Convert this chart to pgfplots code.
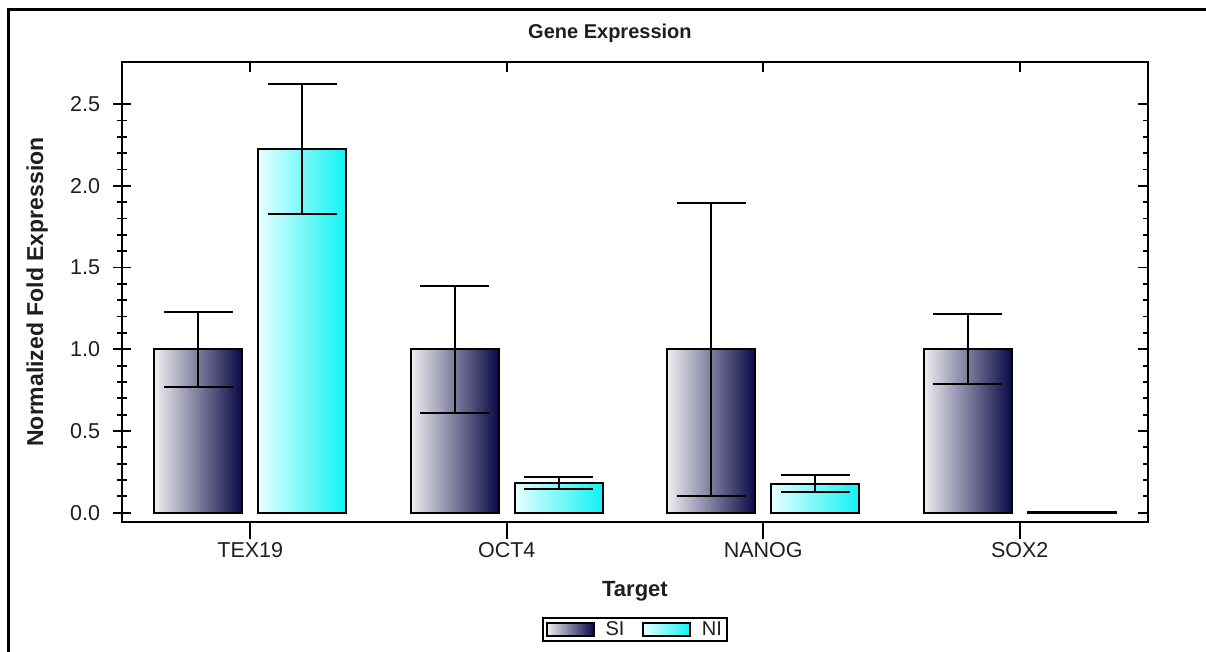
\documentclass[border=0pt]{standalone}
\usepackage{fontspec}
\setmainfont{Liberation Sans}
\usepackage{pgfplots}
\pgfplotsset{compat=1.18}
\definecolor{siL}{HTML}{EEEEF3}
\definecolor{siR}{HTML}{0A0A46}
\definecolor{niL}{HTML}{E6FFFF}
\definecolor{niR}{HTML}{10F2F2}
\definecolor{txt}{HTML}{1E1E1E}
\pgfplotsset{
  errstyle/.style={error bars/y dir=both, error bars/y explicit,
    error bars/error bar style={line width=2pt, black},
    error bars/error mark options={rotate=90, mark size=34.5pt, line width=2pt, black}},
  sibar/.style={bar shift=-0.203, draw=black, line width=2pt, left color=siL, right color=siR, errstyle},
  nibar/.style={bar shift=0.203, draw=black, line width=2pt, left color=niL, right color=niR, errstyle},
}
\begin{document}
\begin{tikzpicture}[x=1pt,y=1pt]
\useasboundingbox (0,0) rectangle (1206,651);
\draw[line width=2.5pt,black] (8.5,-2) -- (8.5,641.5) -- (1210,641.5);
\begin{axis}[
  at={(122pt,129pt)}, anchor=south west,
  scale only axis, width=1026pt, height=460pt,
  xmin=-0.5, xmax=3.5, ymin=-0.057, ymax=2.758,
  xtick={0,1,2,3}, xticklabels={TEX19,OCT4,NANOG,SOX2},
  ytick={0,0.5,1,1.5,2,2.5}, minor y tick num=4,
  xtick pos=left, ytick pos=left,
  tick align=center,
  major tick length=17pt, minor tick length=10pt,
  every tick/.style={black, line width=1.8pt},
  axis line style={line width=2pt},
  tick label style={font=\fontsize{21.5}{24}\selectfont, text=txt},
  yticklabel style={xshift=-10pt},
  /pgf/number format/assume math mode=true,
  yticklabel={\pgfmathprintnumber[fixed,fixed zerofill,precision=1]{\tick}},
  title={\textbf{Gene Expression}},
  title style={at={(0.4756,1.037)}, anchor=base, font=\fontsize{20}{24}\selectfont, text=txt},
  xlabel={\textbf{Target}},
  xlabel style={at={(0.5,-0.161)}, anchor=base, font=\fontsize{22}{26}\selectfont, text=txt},
  ylabel={\textbf{Normalized Fold Expression}},
  ylabel style={at={(-0.077,0.5)}, anchor=base, font=\fontsize{23}{26}\selectfont, text=txt},
  ybar, bar width=0.342,
  legend columns=2,
  legend style={at={(0.5,-0.2337)}, anchor=center, draw=black, line width=1.5pt,
    font=\fontsize{20}{22}\selectfont, text=txt, inner xsep=3pt, inner ysep=2pt,
    /tikz/every odd column/.append style={column sep=9pt},
    /tikz/every even column/.append style={column sep=16pt}},
  legend image code/.code={\draw[#1, line width=1.5pt] (0pt,-6.5pt) rectangle (47pt,6.5pt);},
]
\addplot[sibar] coordinates {(0,1.0) += (0,0.228) -= (0,0.231)};
\addlegendentry{SI}
\addplot[nibar] coordinates {(0,2.224) += (0,0.398) -= (0,0.394)};
\addlegendentry{NI}
\addplot[forget plot, sibar] coordinates {(1,1.0) += (0,0.386) -= (0,0.392)};
\addplot[forget plot, sibar] coordinates {(2,1.0) += (0,0.897) -= (0,0.896)};
\addplot[forget plot, sibar] coordinates {(3,1.0) += (0,0.216) -= (0,0.210)};
\addplot[forget plot, nibar] coordinates {(1,0.182) += (0,0.034) -= (0,0.037)};
\addplot[forget plot, nibar] coordinates {(2,0.174) += (0,0.057) -= (0,0.047)};
\addplot[forget plot, nibar] coordinates {(3,0.006) += (0,0) -= (0,0)};
\end{axis}
\begin{axis}[
  at={(122pt,129pt)}, anchor=south west,
  scale only axis, width=1026pt, height=460pt,
  xmin=-0.5, xmax=3.5, ymin=-0.057, ymax=2.758,
  xtick={0,1,2,3}, xticklabels={},
  ytick={0,0.5,1,1.5,2,2.5}, yticklabels={}, minor y tick num=4,
  xtick pos=right, ytick pos=right,
  tick align=inside,
  major tick length=10pt, minor tick length=5pt,
  every tick/.style={black, line width=1.8pt},
  axis line style={line width=2pt},
]
\end{axis}
\end{tikzpicture}
\end{document}
